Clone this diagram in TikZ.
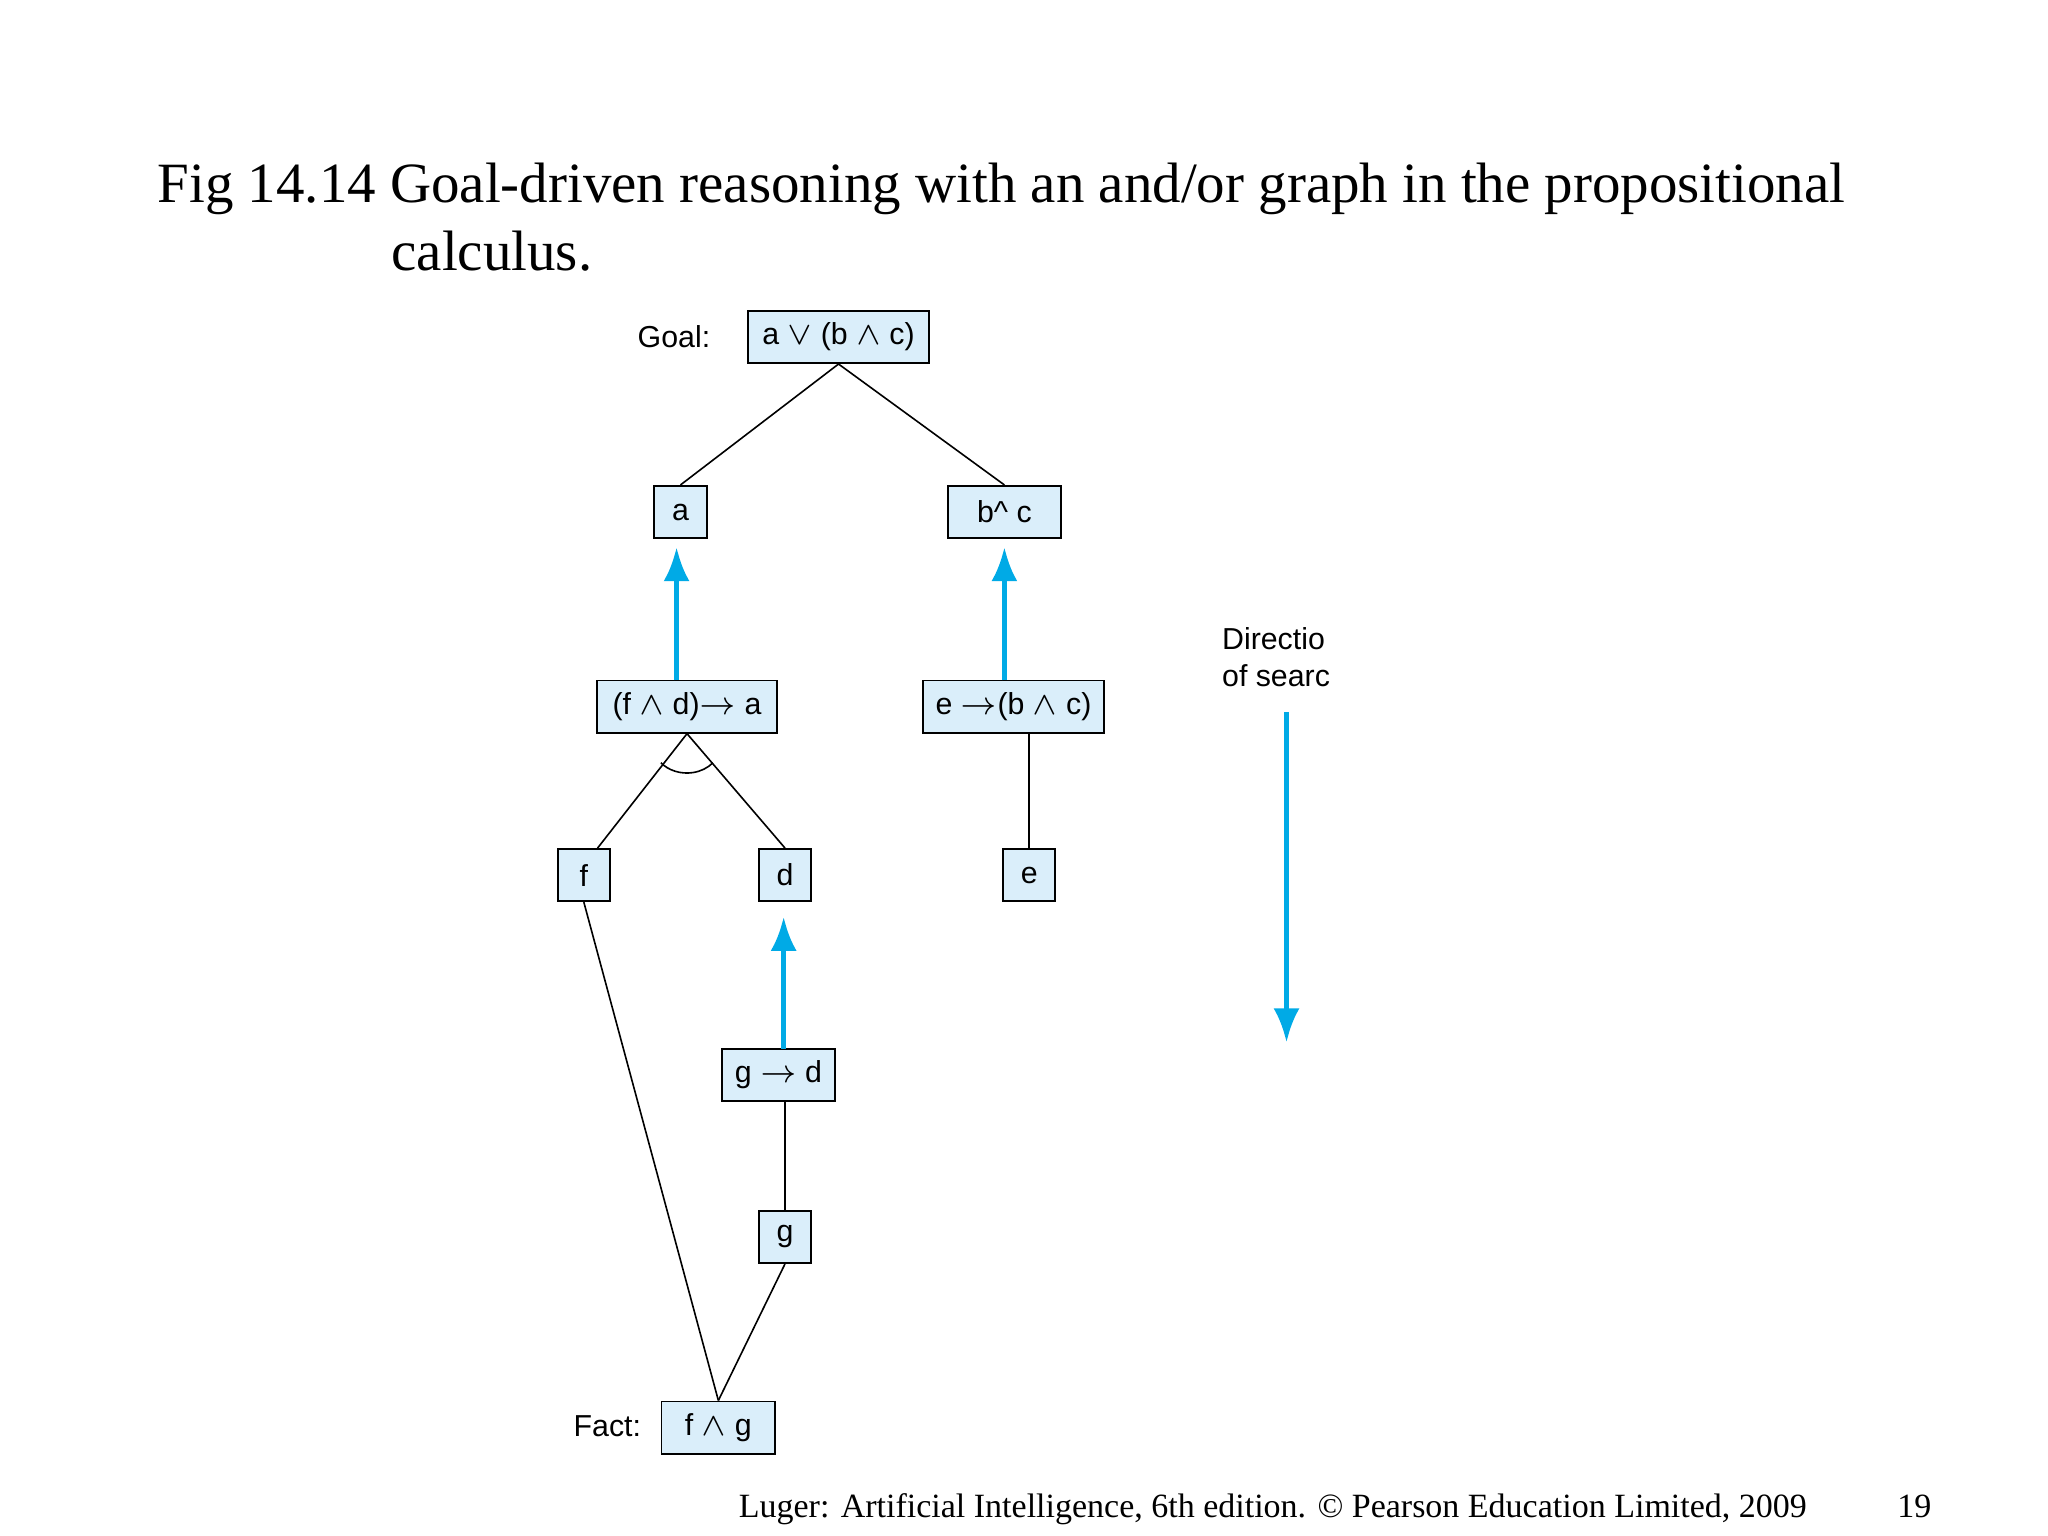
\documentclass[tikz,border=0pt]{standalone}
\usepackage{fontspec}
\setmainfont{Liberation Serif}
\setsansfont{Liberation Sans}
\usetikzlibrary{arrows.meta}
\definecolor{boxfill}{RGB}{218,238,250}
\definecolor{arrblue}{RGB}{0,170,230}
\tikzset{
 bx/.style={draw,fill=boxfill,line width=0.4pt,font=\sffamily\fontsize{6.6}{8}\selectfont,minimum height=0.40cm,inner sep=0pt},
 lbl/.style={font=\sffamily\fontsize{6.6}{8}\selectfont},
 ln/.style={line width=0.35pt},
 barr/.style={draw=arrblue,line width=1.1pt,-{Latex[length=2.6mm,width=2mm]}}
}
\begin{document}
\begin{tikzpicture}[x=0.01cm,y=-0.01cm]
\useasboundingbox (0,0) rectangle (1568,1176);
\node[anchor=base west,inner sep=0pt,font=\fontsize{12.4}{14}\selectfont] (t1) at (120,155) {Fig 14.14 Goal-driven reasoning with an and/or graph in the propositional};
\node[anchor=base west,inner sep=0pt,font=\fontsize{12.4}{14}\selectfont] (t2) at (299,207) {calculus.};
\node[bx,minimum width=1.39cm] (goal) at (642,258) {a $\vee$ (b $\wedge$ c)};
\node[lbl] (goall) at (516,258) {Goal:};
\node[bx,minimum width=0.40cm] (a) at (521,392) {a};
\node[bx,minimum width=0.86cm] (bc) at (769,392) {b\textasciicircum\ c};
\node[bx,minimum width=1.38cm] (fda) at (526,541) {(f $\wedge$ d)$\rightarrow$ a};
\node[bx,minimum width=1.38cm] (ebc) at (776,541) {e $\rightarrow$(b $\wedge$ c)};
\node[bx,minimum width=0.40cm] (f) at (447,670) {f};
\node[bx,minimum width=0.40cm] (d) at (601,670) {d};
\node[bx,minimum width=0.40cm] (e) at (788,670) {e};
\node[bx,minimum width=0.87cm] (gd) at (596,823) {g $\rightarrow$ d};
\node[bx,minimum width=0.40cm] (g) at (601,947) {g};
\node[bx,minimum width=0.87cm] (fg) at (550,1093) {f $\wedge$ g};
\node[lbl] (factl) at (465,1092) {Fact:};
\node[lbl,anchor=north west,align=left,inner sep=0pt] (dir) at (935,480) {Directio\\of searc};
\coordinate (s1) at (985,545); \coordinate (s2) at (985,798);
\coordinate (a1) at (518,521); \coordinate (a2) at (518,419);
\coordinate (b1) at (769,521); \coordinate (b2) at (769,419);
\coordinate (d1) at (600,803); \coordinate (d2) at (600,702);
\draw[ln] (goal.south) -- (a.north);
\draw[ln] (goal.south) -- (bc.north);
\draw[barr] (a1) -- (a2);
\draw[barr] (b1) -- (b2);
\draw[barr] (d1) -- (d2);
\draw[ln] (fda.south) -- ([xshift=3]f.north);
\draw[ln] (fda.south) -- (d.north);
\draw[ln] (506,584) arc[start angle=220,end angle=320,x radius=26,y radius=-22];
\draw[ln] (ebc.south -| e.north) -- (e.north);
\draw[ln] (gd.south -| g.north) -- (g.north);
\draw[ln] (f.south) -- (fg.north);
\draw[ln] (g.south) -- (fg.north);
\draw[barr] (s1) -- (s2);
\node[anchor=base west,inner sep=0pt,font=\fontsize{7.4}{9}\selectfont] (foot) at (565,1162) {Luger: Artificial Intelligence, 6th edition. \textcopyright\ Pearson Education Limited, 2009};
\node[anchor=base west,inner sep=0pt,font=\fontsize{7.4}{9}\selectfont] (pg) at (1452,1162) {19};
\end{tikzpicture}
\end{document}
